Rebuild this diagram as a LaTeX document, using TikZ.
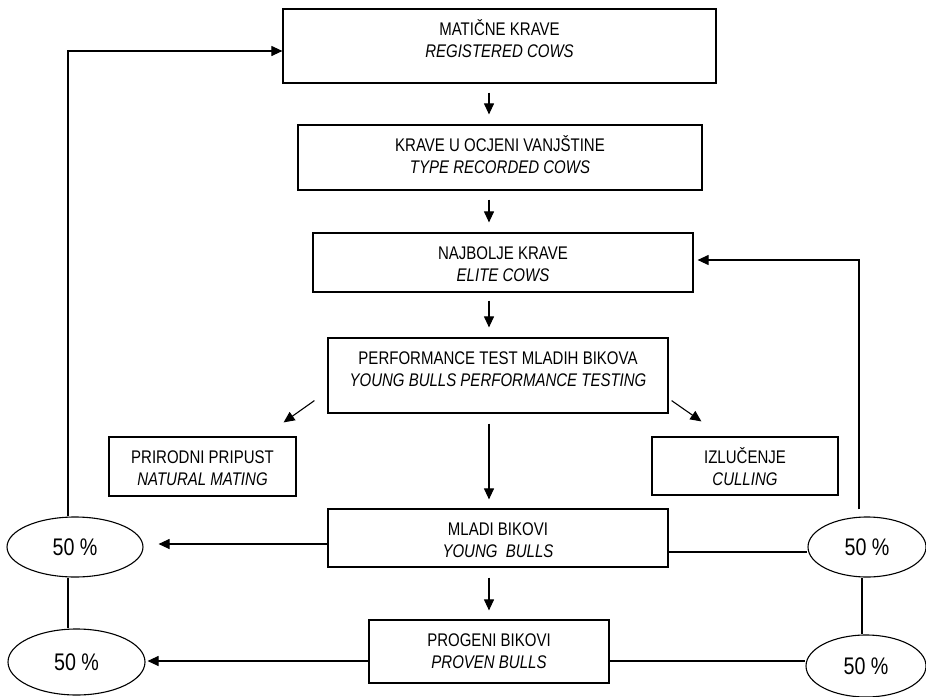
\documentclass[tikz,border=0pt]{standalone}
\usepackage{fontspec}
\setmainfont{Liberation Sans}[FakeStretch=0.82]
\usetikzlibrary{arrows.meta,shapes.geometric}

% two-line box label: plain line over an italic line, set from the top of the box
\newcommand{\boxlines}[4]{\parbox[c][#2][t]{#1}{\centering\rule{0pt}{26.6pt}#3\\\textit{#4}}}

\tikzset{
  boxnode/.style={draw, line width=1.2pt, inner sep=0pt, font=\fontsize{18.3}{22}\selectfont},
  pct/.style={draw, ellipse, line width=1.1pt, inner sep=0pt, font=\fontsize{24}{28}\selectfont},
  link/.style={line width=1.1pt},
  arr/.style={link, -{Triangle[length=11pt,width=10pt]}}
}

\begin{document}
\begin{tikzpicture}[x=1pt,y=-1pt]
\useasboundingbox (0,0) rectangle (926,696);

% main chain of boxes
\node[boxnode] (B1) at (499.5,46)  {\boxlines{433pt}{74pt}{MATIČNE KRAVE}{REGISTERED COWS}};
\node[boxnode] (B2) at (500,157.5) {\boxlines{404pt}{65pt}{KRAVE U OCJENI VANJŠTINE}{TYPE RECORDED COWS}};
\node[boxnode] (B3) at (503,262.5) {\boxlines{380pt}{59pt}{NAJBOLJE KRAVE}{ELITE COWS}};
\node[boxnode] (B4) at (498,375.5) {\boxlines{340pt}{75pt}{PERFORMANCE TEST MLADIH BIKOVA}{YOUNG BULLS PERFORMANCE TESTING}};
\node[boxnode] (B5) at (498,538)   {\boxlines{340pt}{58pt}{MLADI BIKOVI}{YOUNG\ \ BULLS}};
\node[boxnode] (B6) at (489,651.5) {\boxlines{240pt}{63pt}{PROGENI BIKOVI}{PROVEN BULLS}};

% side outcomes of the performance test
\node[boxnode] (P) at (202.5,466.5) {\boxlines{187pt}{59pt}{PRIRODNI PRIPUST}{NATURAL MATING}};
\node[boxnode] (I) at (745,466)     {\boxlines{186pt}{58pt}{IZLUČENJE}{CULLING}};

% share ellipses
\node[pct, minimum width=136pt, minimum height=60pt] (L1) at (75,547)   {50 \%};
\node[pct, minimum width=137pt, minimum height=66pt] (L2) at (76.5,662) {50 \%};
\node[pct, minimum width=118pt, minimum height=60pt] (R1) at (867,547)  {50 \%};
\node[pct, minimum width=120pt, minimum height=62pt] (R2) at (866,666)  {50 \%};

% guide columns
\coordinate (ax)  at (489,0);
\coordinate (lx)  at (68,0);
\coordinate (rxa) at (859,0);
\coordinate (rxb) at (862,0);

% downward arrows of the chain
\draw[arr] ([yshift=-9pt]B1.south -| ax)  -- ([yshift=10pt]B2.north -| ax);
\draw[arr] ([yshift=-9pt]B2.south -| ax)  -- ([yshift=10pt]B3.north -| ax);
\draw[arr] ([yshift=-8pt]B3.south -| ax)  -- ([yshift=10pt]B4.north -| ax);
\draw[arr] ([yshift=-10pt]B4.south -| ax) -- ([yshift=9pt]B5.north -| ax);
\draw[arr] ([yshift=-10pt]B5.south -| ax) -- ([yshift=9pt]B6.north -| ax);

% diagonal arrows to the side outcomes
\draw[arr] ([shift={(-13pt,13pt)}]B4.south west) -- ([shift={(-13pt,14pt)}]P.north east);
\draw[arr] ([shift={(3pt,13pt)}]B4.south east)   -- ([shift={(50pt,15pt)}]I.north west);

% left side: bulls to the 50 % shares, back to registered cows
\path ([yshift=-6pt]B5.west) coordinate (b5l);
\path ([xshift=15pt]L1.east) coordinate (l1t);
\draw[arr] (b5l) -- (b5l -| l1t);
\path ([yshift=-9.5pt]B6.west) coordinate (b6l);
\path ([xshift=2pt]L2.east) coordinate (l2t);
\draw[arr] (b6l) -- (b6l -| l2t);
\draw[link] (L1.south -| lx) -- (L2.north -| lx);
\draw[arr] (L1.north -| lx) |- ([yshift=-5pt]B1.west);

% right side: bulls to the 50 % shares, back to elite cows
\path ([yshift=-14pt]B5.east) coordinate (b5r);
\draw[link] (b5r) -- (b5r -| R1.west);
\path ([yshift=-9.5pt]B6.east) coordinate (b6r);
\draw[link] (b6r) -- (b6r -| R2.west);
\draw[link] (R1.south -| rxb) -- (R2.north -| rxb);
\draw[arr] ([yshift=7pt]R1.north -| rxa) |- ([shift={(4pt,2.5pt)}]B3.east);
\end{tikzpicture}
\end{document}
